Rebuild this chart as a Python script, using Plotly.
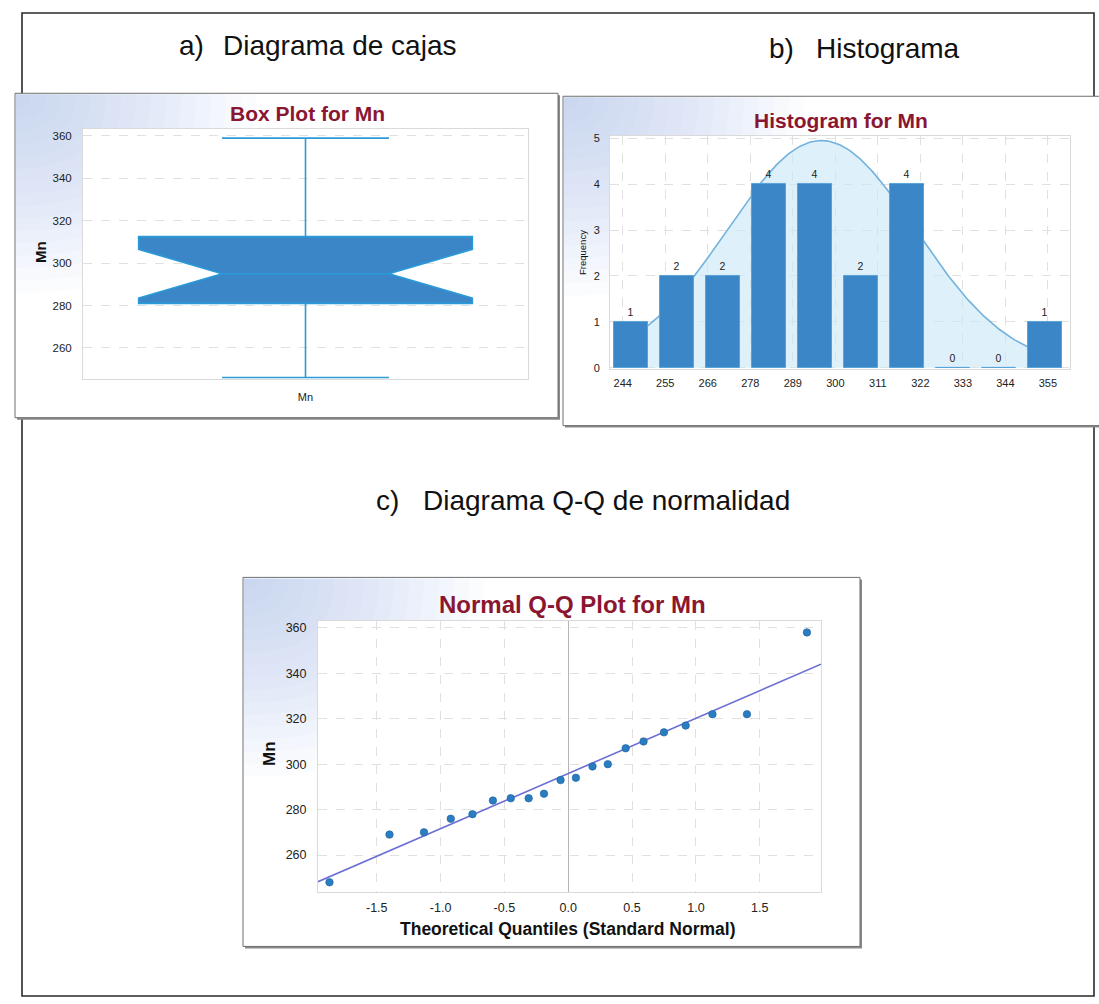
import numpy as np
import plotly.graph_objects as go

W, H = 1099, 1004


def fx(x):
    return x / W


def fy(y):
    return 1 - y / H


# ---------------- data ----------------
# a) box plot summary for Mn
box_label = ["Mn"]
box_q1 = [281.0]
box_median = [295.0]
box_q3 = [312.5]
box_lower = [246.0]
box_upper = [359.0]
box_notch = [11.5]

# b) histogram of Mn
hist_edges = ["244", "255", "266", "278", "289", "300", "311", "322", "333", "344", "355"]
hist_counts = [1, 2, 2, 4, 4, 2, 4, 0, 0, 1]
# normal fit overlay, in bin-index units
fit_center = 4.15
fit_sd = 2.05
fit_peak = 4.95

# c) normal Q-Q plot
qq_theoretical = [-1.87, -1.40, -1.13, -0.92, -0.75, -0.59, -0.45, -0.31, -0.19, -0.06,
                  0.06, 0.19, 0.31, 0.45, 0.59, 0.75, 0.92, 1.13, 1.40, 1.87]
qq_mn = [248, 269, 270, 276, 278, 284, 285, 285, 287, 293,
         294, 299, 300, 307, 310, 314, 317, 322, 322, 358]

# ---------------- styles ----------------
FONT = "Liberation Sans"
TITLE_RED = "#8b1631"
TICK_COLOR = "#222222"
GRID = "#e0e0e0"
HIST_XRANGE = [-0.446, 9.554]

fig = go.Figure()

# ---- a) box plot ----
fig.add_trace(go.Box(
    x=box_label, q1=box_q1, median=box_median, q3=box_q3,
    lowerfence=box_lower, upperfence=box_upper, notchspan=box_notch,
    notched=True, notchwidth=0.25, width=0.75, whiskerwidth=0.5,
    boxpoints=False, fillcolor="#3b86c7",
    line=dict(color="#2a9bd8", width=1.6),
    xaxis="x", yaxis="y", showlegend=False, hoverinfo="skip",
))

# ---- b) histogram ----
bin_pos = list(range(len(hist_counts)))
curve_x = np.linspace(bin_pos[0], bin_pos[-1], 240)
curve_y = fit_peak * np.exp(-0.5 * ((curve_x - fit_center) / fit_sd) ** 2)
# fitted normal curve sits underneath the bars
fig.add_trace(go.Scatter(
    x=curve_x, y=curve_y, mode="lines", fill="tozeroy",
    fillcolor="rgba(200,230,247,0.6)",
    line=dict(color="#72b2dd", width=1.6),
    xaxis="x2", yaxis="y2", showlegend=False, hoverinfo="skip",
))
fig.add_trace(go.Bar(
    x=bin_pos, y=hist_counts, width=0.74,
    marker=dict(color="#3a86c7", line=dict(color="#5aa3d8", width=1)),
    text=[str(c) for c in hist_counts], textposition="outside",
    textfont=dict(family=FONT, size=10.5, color=TICK_COLOR),
    cliponaxis=False,
    xaxis="x5", yaxis="y2", showlegend=False, hoverinfo="skip",
))
# carrier for the bin-edge label axis
fig.add_trace(go.Scatter(
    x=[0, len(hist_edges) - 1], y=[-10, -10], mode="markers",
    marker=dict(opacity=0), xaxis="x4", yaxis="y2",
    showlegend=False, hoverinfo="skip",
))

# ---- c) Q-Q plot ----
qq_xrange = [-1.96, 1.98]
mn_mean = float(np.mean(qq_mn))
mn_sd = float(np.std(qq_mn, ddof=1))
line_x = np.array(qq_xrange)
fig.add_trace(go.Scatter(
    x=line_x, y=mn_mean + mn_sd * line_x, mode="lines",
    line=dict(color="#6c6fd4", width=1.6),
    xaxis="x3", yaxis="y3", showlegend=False, hoverinfo="skip", cliponaxis=False,
))
fig.add_trace(go.Scatter(
    x=qq_theoretical, y=qq_mn, mode="markers",
    marker=dict(size=7.5, color="#2b7dc1", line=dict(color="#1b5f9c", width=0.6)),
    xaxis="x3", yaxis="y3", showlegend=False, hoverinfo="skip",
))

# ---------------- axes ----------------
tick11 = dict(family=FONT, size=11.5, color=TICK_COLOR)

fig.update_layout(
    xaxis=dict(domain=[fx(83), fx(528)], anchor="y", type="category",
               range=[-0.5, 0.5], showgrid=False, zeroline=False,
               showline=True, mirror=True, linecolor="#dadada", linewidth=1,
               tickfont=dict(family=FONT, size=11, color=TICK_COLOR),
               ticklabelstandoff=8),
    yaxis=dict(domain=[fy(378), fy(126)], anchor="x", range=[245.3, 363.3],
               tickvals=[260, 280, 300, 320, 340, 360],
               showgrid=True, gridcolor=GRID, griddash="dash", zeroline=False,
               showline=True, mirror=True, linecolor="#dadada", linewidth=1,
               tickfont=tick11, ticklabelstandoff=8),
    xaxis2=dict(domain=[fx(610), fx(1070)], anchor="y2", range=HIST_XRANGE,
                showticklabels=False, showgrid=False, zeroline=False,
                showline=True, mirror=True, linecolor="#dadada", linewidth=1),
    xaxis5=dict(overlaying="x2", anchor="y2", range=HIST_XRANGE, visible=False),
    yaxis2=dict(domain=[fy(368), fy(133)], anchor="x2", range=[-0.03, 5.05],
                tickvals=[0, 1, 2, 3, 4, 5],
                showgrid=True, gridcolor=GRID, griddash="dash", zeroline=False,
                showline=True, mirror=True, linecolor="#dadada", linewidth=1,
                tickfont=dict(family=FONT, size=11, color=TICK_COLOR),
                ticklabelstandoff=7),
    xaxis4=dict(overlaying="x2", anchor="y2", side="bottom", range=[-0.30, 10.52],
                tickvals=list(range(len(hist_edges))), ticktext=hist_edges,
                showgrid=True, gridcolor=GRID, griddash="dash", zeroline=False,
                showline=False,
                tickfont=dict(family=FONT, size=11, color=TICK_COLOR),
                ticklabelstandoff=6),
    xaxis3=dict(domain=[fx(318), fx(821)], anchor="y3", range=qq_xrange,
                tickvals=[-1.5, -1.0, -0.5, 0.0, 0.5, 1.0, 1.5],
                ticktext=["-1.5", "-1.0", "-0.5", "0.0", "0.5", "1.0", "1.5"],
                showgrid=True, gridcolor=GRID, griddash="dash",
                zeroline=True, zerolinecolor="#b5b5b5", zerolinewidth=1,
                showline=True, mirror=True, linecolor="#dadada", linewidth=1,
                tickfont=dict(family=FONT, size=12.5, color=TICK_COLOR),
                ticklabelstandoff=4),
    yaxis3=dict(domain=[fy(895), fy(622)], anchor="x3", range=[243.8, 363.0],
                tickvals=[260, 280, 300, 320, 340, 360],
                showgrid=True, gridcolor=GRID, griddash="dash", zeroline=False,
                showline=True, mirror=True, linecolor="#dadada", linewidth=1,
                tickfont=dict(family=FONT, size=12.5, color=TICK_COLOR),
                ticklabelstandoff=8),
)

# ---------------- panels & decorations ----------------
shapes = []


def rect(x0, y0, x1, y1, **kw):
    d = dict(type="rect", xref="paper", yref="paper",
             x0=fx(x0), x1=fx(x1), y0=fy(y1), y1=fy(y0), layer="below")
    d.update(kw)
    return d


def corner_glow(x0, y0, rx, ry, steps=16):
    """Soft blue tint fading out from a panel's top-left corner."""
    out = []
    for k in range(steps):
        s = 1 - k / steps
        a, b = rx * s, ry * s
        path = (f"M {fx(x0)},{fy(y0)} L {fx(x0 + a)},{fy(y0)} "
                f"Q {fx(x0 + a)},{fy(y0 + b)} {fx(x0)},{fy(y0 + b)} Z")
        out.append(dict(type="path", xref="paper", yref="paper", path=path,
                        fillcolor="#a9c3e0", opacity=0.045,
                        line=dict(width=0), layer="below"))
    return out


# outer frame of the figure
shapes.append(rect(22, 9, 1094, 1000, line=dict(color="#2a2a2a", width=1.6),
                   fillcolor="rgba(0,0,0,0)"))

panels = [
    (15, 90, 558, 417),
    (563, 93, 1101, 425),
    (243, 578, 860, 950),
]
plot_areas = [
    (83, 126, 528, 378),
    (610, 133, 1070, 368),
    (318, 622, 821, 895),
]
for (x0, y0, x1, y1) in panels:
    shapes.append(rect(x0 + 2, y0 + 2, x1 + 2, y1 + 2, fillcolor="#8a8a8a",
                       line=dict(width=0)))
    shapes.append(rect(x0, y0, x1, y1, fillcolor="white",
                       line=dict(color="#6f6f6f", width=1)))
    shapes.extend(corner_glow(x0 + 1, y0 + 1, 240, 200))
for (x0, y0, x1, y1) in plot_areas:
    shapes.append(rect(x0, y0, x1, y1, fillcolor="white", line=dict(width=0)))

fig.update_layout(shapes=shapes)

# ---------------- text ----------------
ann = []


def text(x, y, s, size, color="#111111", bold=False, xanchor="center",
         angle=0, family=FONT):
    ann.append(dict(x=fx(x), y=fy(y), xref="paper", yref="paper",
                    text=f"<b>{s}</b>" if bold else s, showarrow=False,
                    xanchor=xanchor, yanchor="middle", textangle=angle,
                    font=dict(family=family, size=size, color=color)))


# section headings
text(177, 42, "a)", 28, xanchor="left")
text(221, 42, "Diagrama de cajas", 28, xanchor="left")
text(767, 45, "b)", 28, xanchor="left")
text(814, 45, "Histograma", 28, xanchor="left")
text(374, 500, "c)", 28, xanchor="left")
text(421, 500, "Diagrama Q-Q de normalidad", 28, xanchor="left")

# chart titles
text(307, 110, "Box Plot for Mn", 21, color=TITLE_RED, bold=True)
text(841, 117, "Histogram for Mn", 21, color=TITLE_RED, bold=True)
text(572, 605, "Normal Q-Q Plot for Mn", 24, color=TITLE_RED, bold=True)

# axis titles
text(40, 250, "Mn", 15, bold=True, angle=-90)
text(582, 250, "Frequency", 9.5, angle=-90)
text(270, 756, "Mn", 17, bold=True, angle=-90)
text(567, 932, "Theoretical Quantiles (Standard Normal)", 17.5, bold=True)

fig.update_layout(
    annotations=ann,
    width=W, height=H,
    margin=dict(l=0, r=0, t=0, b=0),
    paper_bgcolor="white",
    plot_bgcolor="rgba(0,0,0,0)",
    showlegend=False,
    bargap=0,
    font=dict(family=FONT, color=TICK_COLOR),
)

fig.write_html("out.html")
